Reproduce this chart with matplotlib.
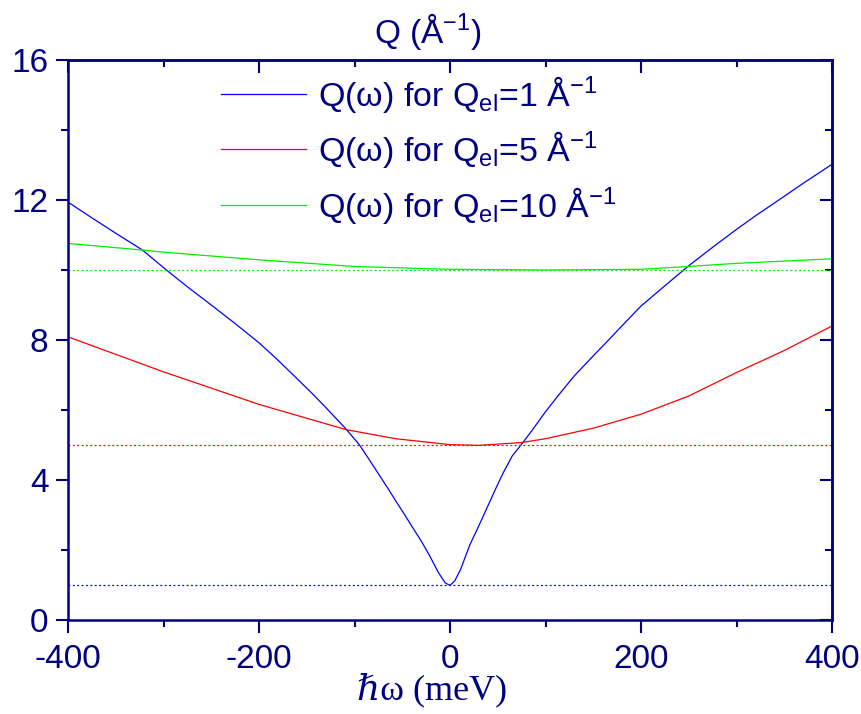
import numpy as np
import matplotlib
matplotlib.use("Agg")
import matplotlib.pyplot as plt
from matplotlib.ticker import MultipleLocator

# values
w_q1 = [-400, -375, -350, -322, -297, -275, -250, -225, -200, -180, -163, -145,
        -130, -109, -95, -85, -75, -65, -57, -48, -40, -30, -22, -12, -5, 0,
        5, 11, 21, 30, 40, 48, 56, 65, 76, 86, 100, 115, 130, 148, 165, 182,
        200, 225, 249, 275, 300, 320, 340, 370, 400]
q_q1 = [11.94, 11.49, 11.05, 10.57, 10.0, 9.52, 9.0, 8.47, 7.92, 7.42, 6.97, 6.49,
        6.07, 5.46, 5.01, 4.60, 4.18, 3.76, 3.41, 3.03, 2.68, 2.25, 1.87, 1.35, 1.06, 0.99,
        1.12, 1.44, 2.16, 2.68, 3.28, 3.76, 4.22, 4.68, 5.06, 5.42, 5.95, 6.47, 6.97,
        7.49, 7.97, 8.46, 8.97, 9.55, 10.10, 10.65, 11.16, 11.55, 11.92, 12.48, 13.02]

w_q5 = [-400, -300, -200, -109, -57, 0, 30, 75, 100, 150, 200, 250, 300, 350, 400]
q_q5 = [8.09, 7.09, 6.16, 5.44, 5.18, 5.01, 4.99, 5.07, 5.18, 5.48, 5.88, 6.40,
        7.07, 7.70, 8.40]

w_q10 = [-400, -322, -300, -200, -100, 0, 100, 200, 249, 300, 400]
q_q10 = [10.76, 10.57, 10.51, 10.29, 10.10, 10.02, 10.0, 10.02, 10.10, 10.19, 10.32]

q_el = [1, 5, 10]
labels = ["Q(ω) for Q$_\\mathrm{el}$=1 Å$^{-1}$",
          "Q(ω) for Q$_\\mathrm{el}$=5 Å$^{-1}$",
          "Q(ω) for Q$_\\mathrm{el}$=10 Å$^{-1}$"]
colors = ["#0000ff", "#ff0000", "#00ee00"]

navy = "#000080"
plt.rcParams['font.family'] = ['Liberation Sans', 'DejaVu Sans']
plt.rcParams['axes.unicode_minus'] = False
plt.rcParams['mathtext.fontset'] = 'custom'
plt.rcParams['mathtext.rm'] = 'Liberation Sans'
plt.rcParams['mathtext.it'] = 'Liberation Sans:italic'
plt.rcParams['mathtext.bf'] = 'Liberation Sans:bold'

fig = plt.figure(figsize=(8.61, 7.14), dpi=100)
ax = fig.add_axes([68 / 861, 94 / 714, 764 / 861, 560 / 714])

curves = [(w_q1, q_q1), (w_q5, q_q5), (w_q10, q_q10)]
for (w, q), qe, lab, c in zip(curves, q_el, labels, colors):
    ax.plot(w, q, color=c, lw=0.9, label=lab)
    ax.plot([-400, 400], [qe, qe], color=c, lw=0.9, ls=(0, (1.5, 2)))

ax.set_xlim(-400, 400)
ax.set_ylim(0, 16)
ax.xaxis.set_major_locator(MultipleLocator(200))
ax.xaxis.set_minor_locator(MultipleLocator(100))
ax.yaxis.set_major_locator(MultipleLocator(4))
ax.yaxis.set_minor_locator(MultipleLocator(2))

for s in ax.spines.values():
    s.set_color(navy)
    s.set_linewidth(1.8)
ax.tick_params(which='both', direction='out', colors=navy, width=1.5,
               labelsize=24, labelcolor=navy)
ax.tick_params(which='major', length=9)
ax.tick_params(which='minor', length=5)
ax.tick_params(axis='x', pad=8)
ax.tick_params(axis='y', pad=5)

# inward ticks on the top and right sides
top = ax.secondary_xaxis('top')
top.xaxis.set_major_locator(MultipleLocator(200))
top.xaxis.set_minor_locator(MultipleLocator(100))
right = ax.secondary_yaxis('right')
right.yaxis.set_major_locator(MultipleLocator(4))
right.yaxis.set_minor_locator(MultipleLocator(2))
for sec in (top, right):
    sec.tick_params(which='both', direction='in', colors=navy, width=1.5,
                    labelleft=False, labelright=False, labeltop=False, labelbottom=False)
    sec.tick_params(which='major', length=9)
    sec.tick_params(which='minor', length=5)
    for s in sec.spines.values():
        s.set_color(navy)
        s.set_linewidth(1.8)

leg = ax.legend(loc='upper left', bbox_to_anchor=(0.2, 0.975), frameon=False,
                fontsize=24.5, handlelength=2.5, handletextpad=0.35,
                labelspacing=0.42, borderpad=0, borderaxespad=0)
for t in leg.get_texts():
    t.set_color(navy)

fig.text(428 / 861, 1 - 32 / 714, "Q (Å$^{-1}$)", ha='center', va='center',
         fontsize=24, color=navy)
fig.text(432 / 861, 1 - 690 / 714, "ℏω (meV)", ha='center', va='center',
         fontsize=26, color=navy, family=['Liberation Serif', 'DejaVu Serif'])

fig.savefig("out.png", dpi=100)
